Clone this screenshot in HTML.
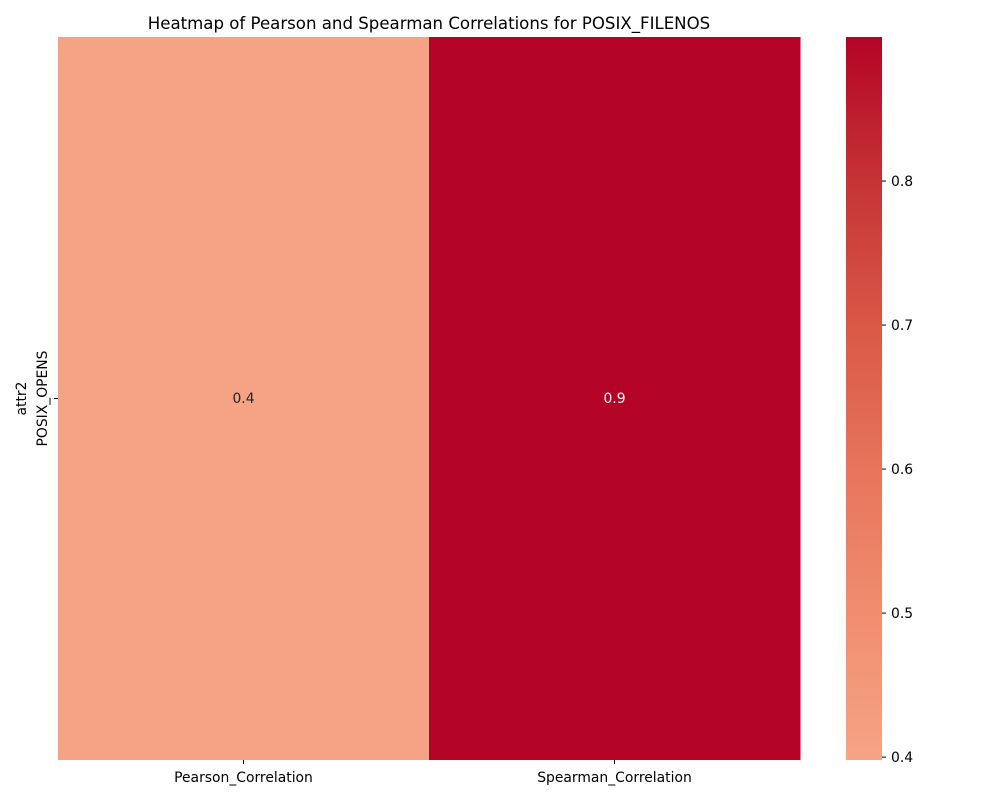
<!DOCTYPE html>
<html><head><meta charset="utf-8"><style>
body{margin:0;background:#fff;font-family:"DejaVu Sans",sans-serif;}
</style></head><body>
<svg id="chart" width="1000" height="800" xmlns="http://www.w3.org/2000/svg" font-family="DejaVu Sans, sans-serif">
<defs><linearGradient id="cbg" x1="0" y1="1" x2="0" y2="0"></linearGradient></defs>
<text x="429" y="29" font-size="16.6" text-anchor="middle">Heatmap of Pearson and Spearman Correlations for POSIX_FILENOS</text>
<g id="cells"></g>
<g id="axes"></g>
<rect x="846" y="37" width="36" height="723" fill="url(#cbg)"/>
<g id="cbticks"></g>
</svg>
<script>
const columns = ["Pearson_Correlation", "Spearman_Correlation"];
const rows = ["POSIX_OPENS"];
const values = [[0.4, 0.9]];
const labels = [["0.4", "0.9"]];
const cbTicks = [0.4, 0.5, 0.6, 0.7, 0.8];
const cbTickLabels = ["0.4", "0.5", "0.6", "0.7", "0.8"];
const cmapVals = [0.4, 0.5, 0.6, 0.7, 0.8, 0.9];
const cmapCols = ["#f6a385", "#f18d6f", "#e7745b", "#d95847", "#c53334", "#b40426"];

const NS = "http://www.w3.org/2000/svg";
const X0 = 58, X1 = 800, Y0 = 37, Y1 = 760;
const vmin = 0.398, vmax = 0.9;
const CB_Y0 = 37, CB_Y1 = 760;
const FS = 13.9;
function hex(c){return [1,3,5].map(i=>parseInt(c.substr(i,2),16));}
function color(v){
  if(v<=cmapVals[0]) return cmapCols[0];
  for(let i=1;i<cmapVals.length;i++){
    if(v<=cmapVals[i]){
      const t=(v-cmapVals[i-1])/(cmapVals[i]-cmapVals[i-1]);
      const a=hex(cmapCols[i-1]), b=hex(cmapCols[i]);
      return "rgb("+a.map((x,k)=>Math.round(x+(b[k]-x)*t)).join(",")+")";
    }
  }
  return cmapCols[cmapCols.length-1];
}
function mk(tag, attrs, parent){const e=document.createElementNS(NS,tag);for(const k in attrs)e.setAttribute(k,attrs[k]);parent.appendChild(e);return e;}
const cw=(X1-X0)/columns.length, ch=(Y1-Y0)/rows.length;
const xPos=j=>X0+j*cw, yPos=i=>Y0+i*ch;
const cells=document.getElementById("cells"), axes=document.getElementById("axes");
rows.forEach((r,i)=>{columns.forEach((c,j)=>{
  const v=values[i][j];
  const rc=mk("rect",{x:xPos(j),y:yPos(i),width:cw+0.5,height:ch,fill:color(v)},cells);
  
  
  const t=mk("text",{x:xPos(j)+cw/2,y:yPos(i)+ch/2+4.5,"font-size":FS,"text-anchor":"middle",fill:v>0.65?"#fff":"#262626"},cells);
  t.textContent=labels[i][j];
  
  
});});
columns.forEach((c,j)=>{
  const cx=xPos(j)+cw/2;
  const tk=mk("line",{x1:cx,x2:cx,y1:Y1,y2:Y1+4,stroke:"#000"},axes);
  
  
  const t=mk("text",{x:cx,y:Y1+22,"font-size":FS,"text-anchor":"middle"},axes);
  t.textContent=c;
  
  
});
rows.forEach((r,i)=>{
  const cy=yPos(i)+ch/2;
  const tk=mk("line",{x1:X0-4,x2:X0,y1:cy,y2:cy,stroke:"#000"},axes);
  
  
  const t=mk("text",{x:0,y:0,"font-size":FS,"text-anchor":"middle",transform:"translate("+(X0-11)+","+cy+") rotate(-90)"},axes);
  t.textContent=r;
  
  
});
const yt=mk("text",{x:0,y:0,"font-size":FS,"text-anchor":"middle",transform:"translate(26,"+((Y0+Y1)/2)+") rotate(-90)"},axes);
yt.textContent="attr2";


const grad=document.getElementById("cbg");
cmapVals.forEach((v,k)=>{
  const s=mk("stop",{offset:((v-vmin)/(vmax-vmin)).toFixed(4),"stop-color":cmapCols[k]},grad);
  
  
});
const cbY=v=>CB_Y1-(v-vmin)/(vmax-vmin)*(CB_Y1-CB_Y0);
const cbg=document.getElementById("cbticks");
cbTicks.forEach((v,k)=>{
  const y=cbY(v);
  const tk=mk("line",{x1:882,x2:886,y1:y,y2:y,stroke:"#000"},cbg);
  
  
  const t=mk("text",{x:891,y:y+5,"font-size":FS},cbg);
  t.textContent=cbTickLabels[k];
  
  
});
</script>
</body></html>
